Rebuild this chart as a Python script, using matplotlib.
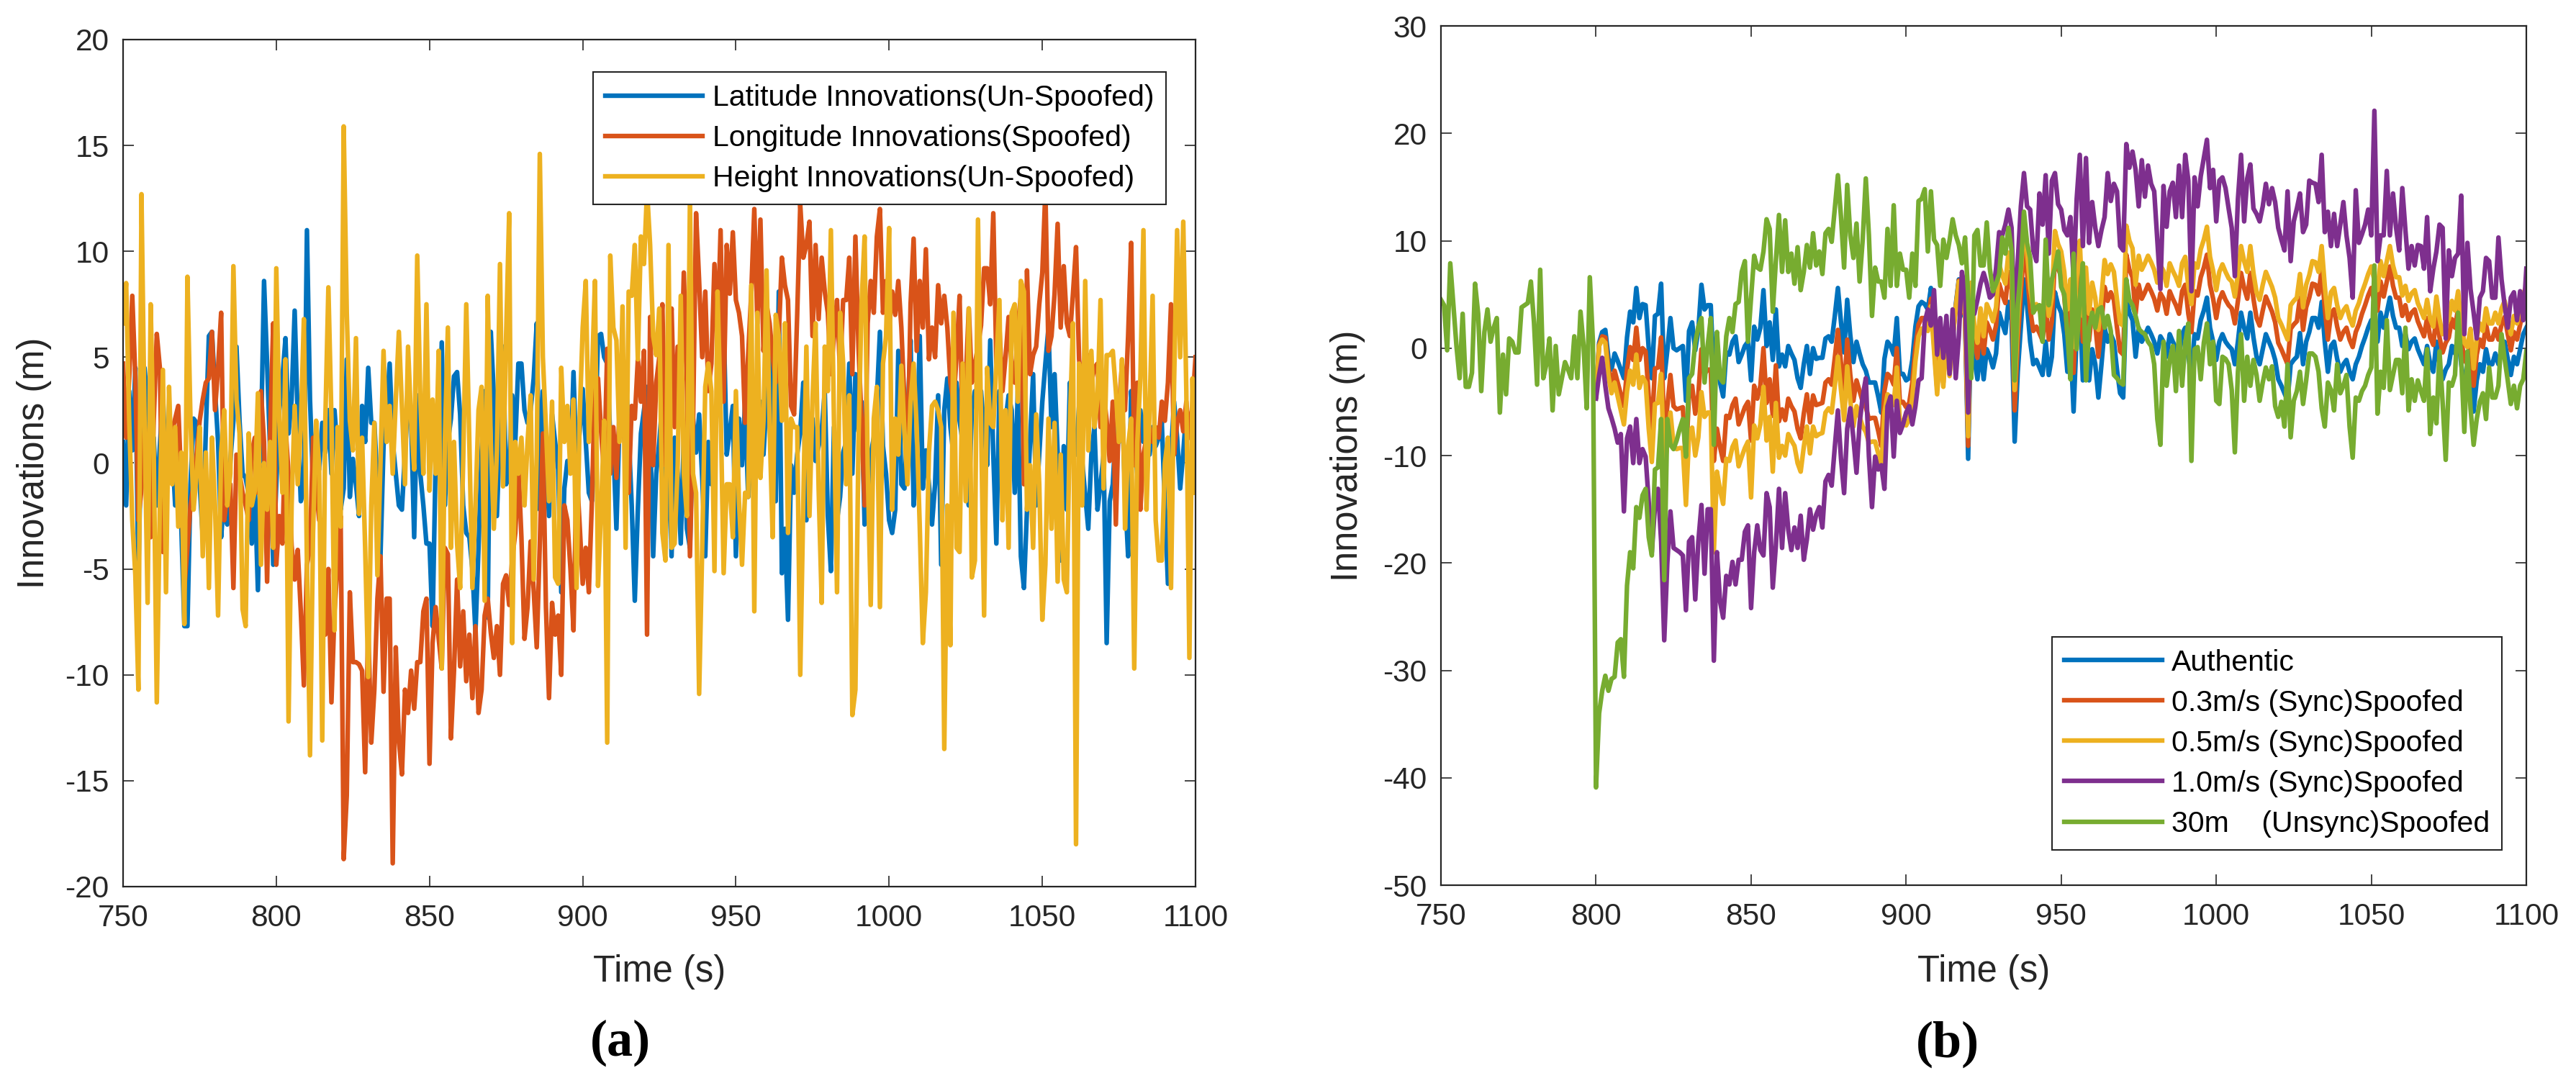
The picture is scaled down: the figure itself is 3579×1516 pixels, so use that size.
import numpy as np
import matplotlib.pyplot as plt

plt.rcParams['font.family'] = ['Liberation Sans', 'DejaVu Sans']
plt.rcParams['axes.unicode_minus'] = False

# === Data, panel (a): innovations at 1 s, 750..1100 s ===
t_a = np.arange(750, 1101)

lat_innov = [
    1.0, -2.0, 3.4, 0.6, 4.5, -5.3, 2.0, 4.5, 2.7, -1.5,
    1.2, -2.0, 0.8, 3.2, -0.5, 1.5, 0.8, -2.0, 0.1, -3.0,
    -7.7, -7.7, -1.0, 2.1, 1.9, -1.0, -3.5, 1.5, 6.0, 6.2,
    3.4, 1.0, -3.5, -1.5, -2.9, 0.1, 2.0, 5.5, 2.0, -0.5,
    -0.7, -1.5, -3.8, -1.2, -6.0, 1.0, 8.6, 4.7, 0.5, -4.8,
    -1.0, 2.5, 4.0, 5.9, 1.4, 3.0, 7.2, 2.0, -1.8, -1.2,
    11.0, 3.0, -1.0, 1.5, -0.3, 1.9, 0.5, 2.5, -0.5, 2.5,
    0.5, -2.2, -1.2, 4.9, -1.6, 0.2, -1.0, -2.5, 2.7, 1.0,
    4.5, 1.9, 1.9, -1.0, -4.4, 0.8, 2.5, 4.7, 1.0, -0.5,
    -2.0, -2.2, 0.5, 2.9, 2.1, -3.5, 3.2, -0.5, -2.0, -3.8,
    -3.8, -7.7, 0.1, 0.1, 5.7, -2.0, 1.0, 2.1, 4.1, 4.3,
    2.3, -2.0, -3.3, -3.5, -5.0, -8.0, -4.0, 0.5, 3.4, -7.3,
    6.2, 3.2, -2.5, 1.5, 5.5, -1.0, -0.3, 3.2, 1.0, 4.7,
    4.7, 2.5, 1.9, 2.5, 4.0, 6.6, -2.2, 3.4, 0.5, -2.5,
    2.3, 1.0, -0.3, -6.1, -1.2, 0.1, -0.3, 4.3, -0.3, 1.5,
    3.5, 1.0, -1.4, -1.8, 0.8, 6.0, 6.1, 5.0, 4.7, 1.2,
    0.8, -3.1, 2.0, 4.7, 4.3, 1.4, -2.0, -6.5, -2.2, 1.4,
    2.5, 3.6, 1.7, -4.4, -0.5, 1.0, 2.9, -4.0, 1.9, -4.4,
    1.2, -0.5, -3.8, 1.2, -3.1, -4.0, 2.1, 0.5, 2.3, -0.7,
    -4.4, 1.0, -1.0, 1.7, 2.5, 4.0, 6.8, 0.4, 1.5, 2.7,
    -4.4, 2.1, -0.1, 2.9, -1.6, 0.4, -1.4, 1.5, 2.9, 0.4,
    3.0, 6.0, 1.9, -1.8, 8.1, -5.2, -3.1, -7.4, -0.1, -1.4,
    0.4, 1.5, 3.8, -2.7, 1.2, 2.1, 0.1, 0.8, 1.5, 3.4,
    -2.5, -5.1, 1.7, -2.7, -1.6, 0.5, 1.0, 4.7, -0.5, 4.2,
    1.5, 2.9, -2.9, -1.8, 0.4, 1.2, 3.0, 6.2, 0.8, -0.5,
    -2.7, -3.3, -2.2, 5.3, -1.0, -1.2, 2.0, 5.8, -2.0, -0.1,
    6.0, -1.2, 0.6, -1.0, -2.9, -1.0, 3.2, -4.8, 2.5, 4.0,
    1.7, 0.4, 3.8, 2.0, 1.0, -0.1, -2.0, 2.5, 3.4, 2.9,
    3.4, 1.5, -0.1, 5.8, 0.4, -3.8, 3.4, 0.8, 2.0, 3.2,
    2.5, -1.4, 3.4, -4.4, -5.9, -2.2, 1.0, 4.2, -2.0, 0.4,
    2.9, 4.7, 6.4, 1.7, 4.2, 0.5, -4.6, 0.8, -2.2, 3.8,
    1.2, 0.4, 2.7, 0.1, -1.5, -3.1, 0.4, 1.7, -2.2, -1.0,
    0.4, -8.5, -1.8, -1.0, 1.7, 1.0, 2.9, -1.4, -4.4, 3.4,
    1.2, -0.5, 2.5, 1.0, 2.9, 0.4, 1.7, 0.8, 1.2, 1.9,
    -2.0, -5.7, 0.4, 2.9, 1.2, -1.2, 0.5, 2.5, 1.2, 1.7,
    2.5,
]

lon_innov = [
    4.7, 1.2, 4.0, 7.9, 4.0, -2.7, -1.2, 1.7, 0.5, -3.5,
    2.0, 6.1, 4.5, -4.2, -1.0, 0.4, 1.5, 2.1, 2.7, -1.0,
    -5.9, -4.0, -2.0, -1.0, 0.4, 2.0, 3.0, 3.8, 4.0, 6.2,
    2.5, 4.5, 7.1, -2.7, -1.5, -1.0, -5.9, 0.4, -0.5, -1.4,
    -2.0, -2.7, 0.5, 1.2, -1.4, 3.4, 1.0, -5.6, 1.5, 6.6,
    -4.8, -2.5, -3.8, 1.7, -0.5, -3.9, -5.5, -4.1, -7.0, -10.5,
    -4.8, -4.0, 1.2, -1.0, -2.7, -2.7, -8.1, -5.0, -11.3, -7.0,
    -4.8, -2.5, -18.7, -15.7, -6.1, -9.4, -9.4, -9.5, -9.8, -14.6,
    -7.7, -13.2, -10.7, -6.4, -4.4, -10.8, -6.4, -6.4, -18.9, -8.7,
    -13.1, -14.7, -10.7, -11.8, -9.8, -11.6, -9.4, -9.4, -7.0, -6.4,
    -14.2, -8.5, -6.8, -8.3, -9.7, -4.0, -4.3, -13.0, -9.8, -5.5,
    -9.6, -7.0, -10.3, -8.1, -11.1, -7.7, -11.8, -10.7, -7.2, -6.4,
    -8.0, -9.2, -7.7, -10.0, -5.7, -5.3, -6.7, -4.5, -3.3, -0.1,
    -3.5, -8.3, -6.8, -3.7, -6.0, -8.7, -3.8, 1.4, -6.8, -11.1,
    -6.6, -8.1, -7.2, -10.0, -2.0, -2.7, -5.0, -7.9, -0.3, -2.9,
    -5.7, -4.0, -6.1, -1.8, 3.8, 4.0, 1.5, -0.5, 5.4, -0.5,
    1.7, -0.7, 2.3, 2.1, 0.5, -1.4, 2.7, 2.1, 4.9, 2.9,
    5.3, -8.1, 6.9, -0.1, 3.8, 5.0, 7.5, -0.1, 4.9, 7.3,
    1.7, 5.5, 3.0, 9.0, 3.8, -4.4, 1.7, 11.8, 8.6, 5.0,
    8.1, 3.4, 4.7, 9.4, 6.0, 11.0, 2.9, 10.3, 8.0, 10.9,
    7.7, 7.1, 6.0, 1.9, 5.1, 8.0, 12.0, 6.6, 11.5, 5.3,
    7.5, 6.6, 5.0, 3.8, 6.0, 9.7, 8.4, 7.7, 2.7, 2.3,
    7.0, 12.2, 9.7, 10.3, 11.4, 6.0, 10.3, 6.8, 9.7, 8.1,
    7.1, 4.2, 6.0, 7.7, 4.2, 7.7, 7.7, 9.7, 4.2, 10.7,
    5.5, 2.0, -2.0, 6.6, 8.6, 7.1, 10.7, 12.0, 7.1, 8.6,
    6.4, 8.1, 7.0, 8.6, 6.4, 2.9, -0.1, 7.5, 10.6, 5.3,
    8.6, 6.4, 10.1, 4.9, 6.4, 5.0, 8.4, 6.6, 7.9, 6.4,
    3.8, 2.9, 5.0, 7.9, 1.7, 3.8, 7.3, 3.8, 4.7, 5.5,
    6.5, 9.2, 9.2, 7.5, 11.8, 4.7, 6.4, 3.4, 5.0, 6.9,
    4.5, 3.8, 6.4, 7.9, -1.0, 9.1, 4.2, 5.1, 5.5, 7.5,
    9.0, 12.9, 5.3, 6.0, 8.0, 11.3, 6.4, 9.3, 6.6, 6.0,
    8.0, 10.2, 4.9, 3.4, 4.7, 5.1, 3.8, 4.5, 4.7, 1.7,
    3.4, 2.0, 0.1, 2.9, -2.9, 2.5, 4.7, 2.5, 6.0, 10.4,
    -0.1, 3.8, -2.2, 0.4, 1.2, 1.7, 1.0, 1.7, 1.2, 2.9,
    2.0, 3.8, 7.5, 0.4, 1.9, 2.5, 1.5, 2.9, 1.2, 2.7,
    5.0,
]

hgt_innov = [
    6.6, 8.5, 2.0, -2.7, -5.3, -10.7, 12.7, 2.0, -6.6, 7.5,
    0.5, -11.3, -2.0, 4.4, -6.1, 3.6, -1.0, 1.7, -3.0, 0.5,
    -7.6, 8.8, 2.0, -2.2, -0.5, 1.7, -4.4, 0.5, -5.9, 1.2,
    -2.0, -7.2, 0.5, 2.5, -2.0, -0.5, 9.3, 3.0, 1.4, -6.9,
    -7.7, 1.4, -2.0, -1.3, 3.3, -4.8, 0.0, -2.2, 1.0, -4.0,
    9.2, 2.0, -1.4, 4.9, -12.2, -2.0, 2.7, -1.0, 1.7, 6.8,
    -4.8, -13.8, -3.3, 2.0, -0.2, -13.1, 2.0, 8.3, 2.1, -7.9,
    1.7, -3.0, 15.9, 7.1, 2.0, 0.6, 5.9, -2.4, 1.2, -4.0,
    -10.1, -2.0, 1.9, -5.3, 0.0, 5.3, 1.0, 2.7, -0.5, 3.0,
    6.2, 2.7, -1.0, 5.5, 2.0, -0.3, 9.8, 3.0, -0.5, 7.5,
    -1.3, 3.0, -0.5, 5.3, -9.7, 1.0, 6.4, -4.0, 1.0, -3.8,
    -5.9, 0.1, 7.5, 1.0, -5.9, -2.0, 2.5, 3.6, -6.5, 7.9,
    1.0, -3.1, 0.6, 9.4, -1.1, 6.0, 11.8, -8.5, 1.0, -0.5,
    1.2, -2.0, 1.0, 3.2, -5.5, 0.4, 14.6, 5.0, 1.7, -1.8,
    2.9, -5.4, -5.7, 4.5, 1.0, 2.7, -0.5, 3.0, -5.9, 2.1,
    6.4, 8.6, 1.0, 4.0, 8.6, -5.8, -2.2, 2.0, -13.2, 9.8,
    6.4, 5.8, 1.0, 7.4, -4.0, 8.1, 7.9, 10.3, 4.9, 10.7,
    9.4, 12.9, 10.3, 6.0, 5.1, 7.3, -3.3, -4.6, 10.3, -4.0,
    -3.8, -0.1, 7.9, -0.5, -2.5, 12.5, -0.5, -1.4, -10.9, -4.0,
    3.6, 4.7, 3.4, -5.1, 8.1, 2.7, -5.2, -1.0, -1.0, -3.5,
    3.4, -1.8, -4.8, -1.4, -1.6, 8.4, -7.0, 7.1, -0.7, 2.0,
    9.1, 1.7, -3.5, 7.0, 6.0, 2.0, 6.6, -3.3, 2.1, 1.7,
    1.7, -10.0, -1.8, 5.5, -2.5, 3.0, 6.6, -1.2, -6.6, 5.5,
    3.4, 11.0, 2.0, -6.1, 7.1, 4.7, -1.0, 3.2, -11.9, -10.7,
    1.0, 7.5, 10.7, -0.1, -6.7, 2.1, 3.6, -6.8, 4.7, 6.0,
    11.1, -2.2, 2.1, 0.4, 4.6, 1.5, -1.0, 2.9, 4.7, 1.7,
    -3.0, -8.5, -6.1, 0.5, 2.7, 2.9, 2.5, 1.7, -13.5, -2.0,
    -8.6, 7.1, -4.0, -4.2, 4.7, -1.8, 7.3, -5.4, -4.6, 11.5,
    2.0, -7.2, 4.5, 1.9, 1.7, 4.7, 7.7, -2.7, 2.5, -4.0,
    7.1, 7.5, 2.9, 8.6, 8.1, -2.2, -0.1, -4.0, 2.3, -1.0,
    -7.4, -4.8, 2.1, -3.1, 1.9, -5.6, 0.4, -5.5, -6.1, 1.9,
    6.6, -18.0, 4.7, -2.0, 8.6, 0.6, 5.3, 1.7, 3.0, 7.7,
    -1.2, 5.1, 5.1, 5.3, 3.4, 1.0, 4.9, -3.1, 0.8, 2.1,
    -9.7, 1.0, 4.0, 11.0, -2.2, 2.5, 7.9, -2.7, -4.6, -4.6,
    0.0, 1.2, -5.9, 3.8, 11.0, 5.0, 11.4, 3.4, -9.2, 4.0,
    -1.4,
]

# === Data, panel (b) ===
# 30 m unsync attack runs over the whole window; the others split off at 800 s
t_unsync = np.arange(750, 1101)
t_sync = np.arange(800, 1101)

unsync_30m = [
    4.5, 4.0, -0.2, 7.9, 4.0, 0.2, -2.8, 3.2, -3.6, -3.6,
    -2.3, 6.0, 3.2, -4.0, 1.5, 3.6, 0.6, 1.9, 2.8, -6.0,
    -0.6, -4.3, 0.9, 0.6, -0.4, -0.4, 3.8, 4.0, 4.2, 6.2,
    2.4, -3.4, 7.3, -2.8, -1.5, 0.9, -5.8, 0.2, -4.3, -2.8,
    -1.3, -2.0, -2.8, 1.1, -2.8, 3.4, 0.2, -5.6, 6.6, 0.6,
    -40.9, -34.0, -31.9, -30.5, -31.9, -30.8, -30.6, -27.4, -27.1, -30.6,
    -22.1, -19.0, -20.5, -14.8, -15.8, -13.7, -13.1, -17.6, -19.3, -11.3,
    -11.1, -6.6, -21.6, -6.6, -9.0, -9.4, -8.6, -7.5, -6.6, -10.1,
    -2.8, -2.4, 0.5, 2.0, 2.8, -3.2, 0.2, 2.8, -9.0, 1.5,
    -2.8, -3.2, 1.1, 2.8, 1.5, 4.1, 4.3, 7.1, 8.1, 0.6,
    4.7, 8.6, 7.5, 7.3, 9.0, 12.0, 11.1, 3.4, 8.1, 12.4,
    7.1, 11.9, 7.1, 8.8, 6.0, 9.4, 5.4, 7.1, 9.6, 7.5,
    10.7, 7.7, 9.0, 6.9, 10.7, 11.1, 9.9, 13.0, 16.1, 12.2,
    7.5, 15.2, 10.5, 8.4, 11.6, 6.2, 10.1, 15.8, 10.5, 3.0,
    7.5, 6.2, 6.2, 4.7, 11.1, 5.8, 13.3, 5.8, 8.8, 7.3,
    7.3, 4.7, 8.8, 5.8, 13.7, 13.9, 14.8, 9.0, 14.6, 10.1,
    9.6, 5.8, 10.1, 8.4, 10.0, 12.0, 10.5, 9.6, 7.9, 10.3,
    5.0, -2.8, 10.5, 11.0, 7.7, 7.7, 11.7, 7.4, 5.3, 6.0,
    6.9, 10.3, 8.8, 11.2, 9.1, -3.0, 4.0, 7.4, 12.7, 9.8,
    8.4, 3.3, 3.8, 4.0, 0.6, 10.1, 4.0, 6.4, 7.5, 9.0,
    5.7, 5.0, 1.4, -2.9, 8.8, -0.1, 4.5, 7.9, -3.0, 1.9,
    3.3, 1.9, 3.6, 3.8, 1.9, 3.0, 1.6, -2.5, -2.8, -3.2,
    -3.4, 6.4, 4.5, 4.0, 3.0, 1.8, 1.5, 1.3, 0.6, 0.2,
    -1.5, -6.6, -9.0, 0.6, -3.5, -1.1, 0.2, -4.0, 1.6, -3.5,
    0.5, 2.3, -10.5, -0.1, 0.1, -2.9, 0.5, 2.3, -1.5, 0.6,
    -4.9, -5.2, -0.8, -1.0, -1.5, -3.9, -9.7, -2.2, 1.3, -4.9,
    -0.8, -3.5, -1.1, -2.5, -4.9, -3.2, -1.8, -2.9, -1.7, -5.4,
    -6.4, -5.0, -7.3, -1.5, -8.3, -4.9, -4.0, -2.2, -5.2, -3.0,
    -0.5, -0.5, -0.8, -2.2, -5.6, -7.3, -3.2, -3.9, -5.8, -1.5,
    -4.2, -3.5, -2.5, -7.3, -10.2, -4.6, -4.9, -4.0, -3.5, -2.5,
    -1.8, 7.7, -6.1, -2.2, -3.7, 2.6, -3.9, -2.5, -1.1, -1.1,
    -4.2, 1.9, -5.8, -2.9, -4.9, -3.0, -4.0, -4.9, -0.1, -8.0,
    -4.6, -7.0, -0.3, -5.0, -10.4, -3.2, -3.5, -2.5, 3.3, -1.1,
    -7.8, -0.3, -5.6, -9.0, -6.6, -5.0, -4.2, -6.6, -1.8, -4.6,
    -4.6, -3.5, 1.3, -1.0, -3.0, -5.2, -3.5, -5.6, -3.5, -2.9,
    -0.3,
]

authentic = [
    -4.5, 0.5, 1.5, 1.7, -0.9, -2.0, -0.5, -1.2, -2.0, -2.8,
    1.0, 3.4, 2.4, 5.6, 2.8, 4.1, 4.0, 0.0, -2.8, 3.0,
    3.2, 6.0, -2.8, -0.2, 2.8, 0.0, -0.2, 0.0, 0.2, -4.9,
    1.6, 2.4, -0.2, 1.7, 5.9, 3.6, 4.0, 4.0, -2.8, -1.5,
    -3.2, -4.5, -0.4, -0.6, 0.6, 1.1, -1.3, -0.6, 0.2, 0.6,
    -3.0, 2.0, 0.8, 1.9, 5.4, 0.2, 2.4, -1.1, 3.6, -1.7,
    -0.6, -1.7, 0.2, -0.5, -1.1, -2.8, -3.7, -1.5, 0.2, -2.4,
    0.0, -1.0, -0.9, -0.9, 0.9, 1.1, 0.6, 3.0, 5.6, 2.4,
    -0.4, 4.5, 1.2, -1.3, 0.6, -0.5, -1.5, -2.1, -3.2, -3.2,
    -3.2, -4.5, -6.0, -1.0, 0.6, 0.2, -0.6, 2.8, -2.4, -2.4,
    -3.0, -2.8, -1.1, 2.0, 3.9, 4.3, 4.1, 3.6, 5.6, 1.3,
    -3.0, 1.1, -2.6, 2.4, -1.9, 1.3, 4.0, 6.4, 3.6, 2.8,
    -10.3, 3.6, -1.0, -2.9, 0.0, -2.9, -0.1, -0.8, -1.8, -0.5,
    3.3, 2.3, 1.4, 4.3, 2.6, -8.7, -2.2, 2.0, 6.4, 4.0,
    0.6, -1.5, -1.1, -1.8, -2.5, 0.6, -2.5, -0.8, 5.2, 4.0,
    3.3, 1.3, -2.2, 0.6, -5.9, 1.3, 4.0, -3.0, 1.3, -3.0,
    -0.1, -1.5, -4.6, -1.5, 1.9, 0.6, 1.3, 0.6, -2.0, -4.2,
    -4.6, 4.7, 3.3, 2.6, -0.8, 1.9, 0.6, 1.2, 1.9, 1.3,
    0.6, -0.5, 1.1, 0.6, -0.8, 1.3, 0.6, 0.0, -0.8, 1.3,
    1.9, -0.8, -2.5, 1.3, 0.9, 2.6, 3.5, 4.7, 1.9, 0.6,
    -1.1, 0.6, 1.3, 0.6, 0.2, -0.1, -1.5, 0.6, 3.3, 1.9,
    0.9, 3.3, 1.0, -0.8, -1.5, -0.1, 1.3, 0.6, -0.1, -1.1,
    -2.9, -3.5, -4.2, -4.9, -1.5, -1.1, -0.8, 1.4, -1.5, 0.6,
    1.5, 2.8, 2.8, 1.9, 4.3, 0.6, -2.2, 0.2, 0.6, -1.0,
    -2.2, -1.5, -1.1, -2.2, -2.9, -1.5, -0.8, 0.2, 1.0, 1.9,
    2.6, 1.3, 0.6, 3.3, 1.9, 3.3, 4.7, 3.0, 1.9, 1.9,
    0.2, 1.3, -0.1, 0.6, 0.9, -0.1, -0.8, -1.5, 0.2, -1.5,
    -2.2, 0.6, -1.5, -2.9, -2.0, -1.5, 0.2, -0.5, 1.3, -1.5,
    -3.5, -3.9, -2.2, -5.9, -3.0, -1.5, -2.2, -0.1, -1.5, -1.5,
    -0.5, -1.5, -0.1, 0.6, -1.0, -2.5, -0.8, -1.5, -0.1, 1.3,
    1.9,
]

sync_03 = [
    -4.5, 0.3, 1.1, 1.0, -1.9, -3.3, -2.1, -3.2, -4.3, -5.4,
    -2.0, 0.1, -1.1, 1.9, -1.1, 0.0, -0.3, -4.5, -7.5, -1.9,
    -1.8, 1.0, -7.9, -5.4, -2.5, -5.4, -5.7, -5.6, -5.5, -10.7,
    -4.2, -3.5, -6.1, -4.3, -0.1, -2.4, -2.0, -2.0, -10.5, -7.5,
    -9.2, -10.5, -6.3, -6.5, -5.3, -4.7, -7.1, -6.3, -5.5, -5.0,
    -8.6, -3.5, -4.7, -3.5, 0.0, -5.1, -2.9, -6.3, -1.6, -6.8,
    -5.7, -6.7, -4.7, -5.4, -5.9, -7.5, -8.4, -6.1, -4.3, -6.9,
    -4.4, -5.3, -5.2, -5.1, -3.2, -2.9, -3.4, -0.9, 1.7, -1.4,
    -4.2, 0.8, -2.5, -4.9, -3.0, -4.0, -5.0, -5.5, -6.6, -6.5,
    -6.5, -7.7, -9.1, -4.0, -2.4, -2.7, -3.4, 0.0, -5.1, -5.0,
    -5.5, -5.1, -3.2, 0.1, 2.2, 2.8, 2.8, 2.4, 4.6, 0.4,
    -3.8, 0.4, -3.2, 1.9, -2.3, 1.0, 3.8, 6.3, 3.6, 3.1,
    -9.1, 5.1, 0.8, -0.9, 2.2, -0.5, 2.4, 1.7, 0.8, 2.1,
    6.0, 5.0, 4.2, 7.1, 5.5, -5.8, 0.7, 5.0, 9.4, 7.0,
    3.6, 1.6, 2.0, 1.4, 0.7, 3.9, 0.8, 2.5, 8.6, 7.4,
    6.7, 4.8, 1.3, 4.1, -2.3, 4.9, 7.6, 0.6, 5.0, 0.7,
    3.6, 2.2, -0.8, 2.3, 5.7, 4.4, 5.2, 4.5, 1.9, -0.3,
    -0.6, 8.7, 7.3, 6.6, 3.2, 5.9, 4.6, 5.2, 5.9, 5.3,
    4.6, 3.5, 5.1, 4.6, 3.2, 5.3, 4.6, 4.0, 3.2, 5.3,
    5.9, 3.2, 1.5, 5.3, 4.9, 6.6, 7.5, 8.7, 5.9, 4.6,
    2.8, 4.5, 5.2, 4.5, 4.0, 3.7, 2.3, 4.4, 7.0, 5.6,
    4.6, 7.0, 4.6, 2.8, 2.1, 3.5, 4.8, 4.1, 3.4, 2.4,
    0.5, -0.1, -0.8, -1.5, 1.8, 2.2, 2.5, 4.7, 1.7, 3.8,
    4.7, 6.0, 5.9, 5.0, 7.4, 3.7, 0.8, 3.2, 3.6, 2.0,
    0.8, 1.5, 1.9, 0.8, 0.1, 1.5, 2.2, 3.2, 4.0, 4.9,
    5.6, 4.3, 3.5, 6.2, 4.8, 6.2, 7.6, 5.8, 4.7, 4.7,
    3.0, 4.0, 2.6, 3.3, 3.6, 2.5, 1.8, 1.1, 2.8, 1.0,
    0.3, 3.1, 1.0, -0.4, 0.5, 1.0, 2.7, 1.9, 3.7, 0.9,
    -1.1, -1.5, 0.2, -3.5, -0.6, 0.8, 0.1, 2.2, 0.8, 0.8,
    1.8, 0.8, 2.2, 2.9, 1.3, -0.2, 1.5, 0.8, 2.2, 3.6,
    4.2,
]

sync_05 = [
    -4.5, 0.2, 0.8, 0.5, -2.6, -4.2, -3.2, -4.5, -5.8, -7.1,
    -4.0, -2.1, -3.4, -0.6, -3.7, -2.7, -3.2, -7.5, -10.6, -5.2,
    -5.1, -2.4, -11.3, -8.9, -6.0, -9.0, -9.4, -9.3, -9.3, -14.6,
    -8.1, -7.4, -10.0, -8.3, -4.1, -6.4, -6.0, -6.0, -19.0, -11.5,
    -13.2, -14.5, -10.3, -10.5, -9.2, -8.6, -11.0, -10.1, -9.3, -8.7,
    -13.9, -7.2, -8.4, -7.1, -3.6, -8.6, -6.4, -11.5, -5.1, -10.2,
    -9.1, -10.0, -8.0, -8.6, -9.1, -10.7, -11.5, -9.2, -7.3, -9.8,
    -7.3, -8.2, -8.0, -7.9, -6.0, -5.6, -6.0, -3.5, -0.8, -3.9,
    -6.7, -1.7, -4.9, -7.3, -5.4, -6.4, -7.3, -7.8, -8.8, -8.7,
    -8.7, -9.8, -11.2, -6.0, -4.3, -4.6, -5.3, -1.8, -6.9, -6.7,
    -7.2, -6.6, -4.6, -1.2, 1.1, 1.8, 1.9, 1.6, 3.9, -0.2,
    -4.3, -0.1, -3.6, 1.6, -2.6, 0.8, 3.7, 6.2, 3.6, 3.3,
    -8.2, 6.1, 2.0, 0.5, 3.7, 1.1, 4.1, 3.4, 2.5, 3.8,
    7.8, 6.8, 6.0, 8.9, 7.4, -3.9, 2.6, 7.0, 11.4, 9.0,
    5.6, 3.7, 4.1, 3.5, 2.8, 6.1, 3.0, 4.7, 10.9, 9.7,
    9.0, 7.1, 3.6, 6.4, 0.1, 7.3, 10.0, 3.0, 7.5, 3.2,
    6.1, 4.7, 1.7, 4.8, 8.2, 6.9, 7.8, 7.1, 4.5, 2.3,
    2.1, 11.4, 10.0, 9.3, 5.9, 8.6, 7.3, 7.9, 8.6, 8.0,
    7.3, 6.1, 7.7, 7.2, 5.8, 7.9, 7.2, 6.6, 5.8, 7.9,
    8.5, 5.8, 4.1, 7.9, 7.5, 9.2, 10.1, 11.3, 8.5, 7.2,
    5.4, 7.1, 7.8, 7.1, 6.5, 6.2, 4.8, 6.9, 9.5, 8.1,
    7.1, 9.5, 7.0, 5.2, 4.5, 5.9, 7.1, 6.4, 5.7, 4.7,
    2.8, 2.2, 1.5, 0.8, 4.0, 4.4, 4.7, 6.9, 3.8, 5.9,
    6.8, 8.1, 8.0, 7.1, 9.5, 5.8, 2.8, 5.2, 5.6, 4.0,
    2.8, 3.5, 3.9, 2.8, 2.1, 3.5, 4.2, 5.2, 6.0, 6.9,
    7.6, 6.3, 5.4, 8.1, 6.7, 8.1, 9.5, 7.7, 6.6, 6.6,
    4.9, 5.8, 4.4, 5.1, 5.4, 4.2, 3.5, 2.8, 4.5, 2.7,
    2.0, 4.8, 2.7, 1.3, 2.2, 2.7, 4.4, 3.5, 5.3, 2.5,
    0.5, 0.1, 1.8, -1.9, 1.0, 2.3, 1.6, 3.7, 2.3, 2.3,
    3.3, 2.3, 3.7, 4.4, 2.8, 1.3, 3.0, 2.3, 3.7, 5.1,
    5.7,
]

sync_10 = [
    -4.7, -2.5, -0.9, -3.5, -5.6, -6.5, -7.5, -8.8, -8.0, -15.2,
    -8.4, -7.3, -10.7, -6.6, -10.7, -9.4, -10.1, -14.3, -19.0, -14.8,
    -13.1, -18.0, -27.2, -20.0, -15.2, -18.6, -18.8, -19.0, -19.3, -24.4,
    -18.0, -17.6, -23.4, -18.0, -14.6, -21.0, -15.0, -15.0, -29.1, -19.0,
    -23.6, -25.1, -21.2, -22.0, -19.9, -22.0, -19.7, -19.7, -17.1, -16.5,
    -24.2, -19.0, -16.5, -18.8, -19.3, -13.5, -14.8, -22.3, -18.4, -13.1,
    -18.6, -13.5, -16.9, -18.8, -16.7, -18.6, -15.6, -19.7, -17.8, -15.0,
    -16.9, -15.5, -14.8, -16.7, -12.4, -11.8, -12.8, -9.2, -5.8, -10.3,
    -13.5, -7.5, -5.6, -8.4, -11.6, -7.0, -4.5, -2.8, -10.1, -14.8,
    -10.1, -11.3, -10.9, -13.1, -5.4, -4.5, -10.1, -4.9, -7.9, -7.1,
    -6.0, -5.4, -7.1, -5.4, -3.0, -2.8, 2.4, 3.6, 2.1, 5.4,
    -0.6, 2.8, -0.9, 3.0, -2.4, 3.6, -2.8, 1.1, 7.1, 5.4,
    -6.0, 3.6, 3.2, 4.5, 6.0, 7.0, 6.0, 4.7, 5.0, 7.4,
    10.8, 10.5, 11.5, 12.9, 11.2, 1.9, 8.1, 13.2, 16.3, 13.2,
    12.9, 9.1, 8.1, 14.4, 11.5, 16.1, 8.8, 15.6, 16.3, 13.4,
    12.9, 11.0, 10.5, 12.2, 6.4, 13.9, 18.0, 9.5, 17.7, 9.8,
    13.6, 11.2, 9.5, 11.0, 12.2, 16.3, 13.7, 15.3, 14.6, 9.5,
    9.1, 19.0, 16.8, 18.3, 16.6, 13.2, 17.5, 14.1, 17.0, 15.3,
    14.6, 10.0, 5.5, 15.1, 11.3, 14.6, 15.4, 12.2, 17.0, 12.2,
    18.0, 15.6, 5.3, 15.9, 13.2, 16.0, 17.7, 19.4, 14.9, 16.6,
    11.8, 15.6, 15.9, 14.9, 13.0, 11.2, 6.7, 13.9, 18.0, 11.8,
    15.8, 17.1, 13.0, 12.5, 11.8, 13.2, 15.3, 13.4, 14.9, 13.6,
    11.2, 10.1, 9.1, 14.6, 8.1, 11.8, 13.0, 14.4, 10.8, 11.5,
    15.6, 15.4, 15.3, 13.6, 18.0, 10.8, 12.7, 9.5, 12.5, 9.5,
    11.5, 13.6, 10.5, 8.4, 4.7, 14.7, 9.8, 10.6, 11.5, 12.9,
    10.5, 22.1, 8.1, 10.5, 10.5, 16.5, 10.5, 14.4, 11.2, 9.1,
    14.9, 11.0, 7.4, 9.5, 7.7, 9.6, 9.5, 7.4, 12.2, 5.3,
    7.4, 9.0, 11.5, 11.2, 0.9, 9.1, 6.7, 8.4, 8.8, 14.2,
    1.3, 9.8, 5.5, 3.3, 0.9, 4.7, 5.3, 8.4, 8.1, 4.7,
    4.7, 10.3, 6.4, 4.0, 1.9, 4.7, 5.2, 2.6, 5.3, 2.6,
    7.4,
]

# MATLAB default line colours
BLUE = '#0072BD'
ORANGE = '#D95319'
YELLOW = '#EDB120'
PURPLE = '#7E2F8E'
GREEN = '#77AC30'
AXC = '#262626'
LW = 4.6

fig = plt.figure(figsize=(35.8, 15.16), dpi=100)
ax1 = fig.add_axes([0.04777, 0.18734, 0.41620, 0.77639])
ax2 = fig.add_axes([0.55922, 0.18865, 0.42123, 0.78760])

# --- panel (a) ---
ax1.plot(t_a, lat_innov, color=BLUE, lw=LW, label='Latitude Innovations(Un-Spoofed)')
ax1.plot(t_a, lon_innov, color=ORANGE, lw=LW, label='Longitude Innovations(Spoofed)')
ax1.plot(t_a, hgt_innov, color=YELLOW, lw=LW, label='Height Innovations(Un-Spoofed)')
ax1.set_ylim(-20, 20)
ax1.set_yticks(range(-20, 21, 5))

# --- panel (b) ---
ax2.plot(t_sync, authentic, color=BLUE, lw=LW, label='Authentic')
ax2.plot(t_sync, sync_03, color=ORANGE, lw=LW, label='0.3m/s (Sync)Spoofed')
ax2.plot(t_sync, sync_05, color=YELLOW, lw=LW, label='0.5m/s (Sync)Spoofed')
ax2.plot(t_sync, sync_10, color=PURPLE, lw=LW, label='1.0m/s (Sync)Spoofed')
ax2.plot(t_unsync, unsync_30m, color=GREEN, lw=LW, label='30m    (Unsync)Spoofed')
ax2.set_ylim(-50, 30)
ax2.set_yticks(range(-50, 31, 10))

for ax in (ax1, ax2):
    ax.set_xlim(750, 1100)
    ax.set_xticks(range(750, 1101, 50))
    ax.tick_params(direction='in', length=11, width=1.2, top=True, right=True,
                   labelsize=30.5, colors=AXC)
    ax.tick_params(axis='x', pad=17)
    ax.tick_params(axis='y', pad=14)
    for s in ax.spines.values():
        s.set_linewidth(1.6)
        s.set_color(AXC)
    ax.set_xlabel('Time (s)', fontsize=36.5, color=AXC)
    ax.set_ylabel('Innovations (m)', fontsize=36.5, color=AXC)
    ax.xaxis.label.set_va('center')
    ax.yaxis.label.set_va('center')

ax1.xaxis.set_label_coords(0.5, -0.1011)
ax1.yaxis.set_label_coords(-0.0832, 0.5)
ax2.xaxis.set_label_coords(0.5, -0.1005)
ax2.yaxis.set_label_coords(-0.0862, 0.5)

leg_kw = dict(fontsize=29.5, frameon=True, fancybox=False, framealpha=1,
              edgecolor=AXC, borderaxespad=0, handlelength=3.3,
              handletextpad=0.32, borderpad=0.42, labelspacing=0.44)
leg1 = ax1.legend(loc='upper left', bbox_to_anchor=(0.4383, 0.9618), **leg_kw)
leg2 = ax2.legend(loc='lower right', bbox_to_anchor=(0.9775, 0.0410), **leg_kw)
for leg in (leg1, leg2):
    leg.get_frame().set_linewidth(1.5)

fig.text(0.2408, 0.0442, '(a)', family=['Liberation Serif', 'DejaVu Serif'],
         weight='bold', fontsize=52, ha='center', va='center')
fig.text(0.7559, 0.0429, '(b)', family=['Liberation Serif', 'DejaVu Serif'],
         weight='bold', fontsize=52, ha='center', va='center')

fig.savefig('out.png', dpi=100)
